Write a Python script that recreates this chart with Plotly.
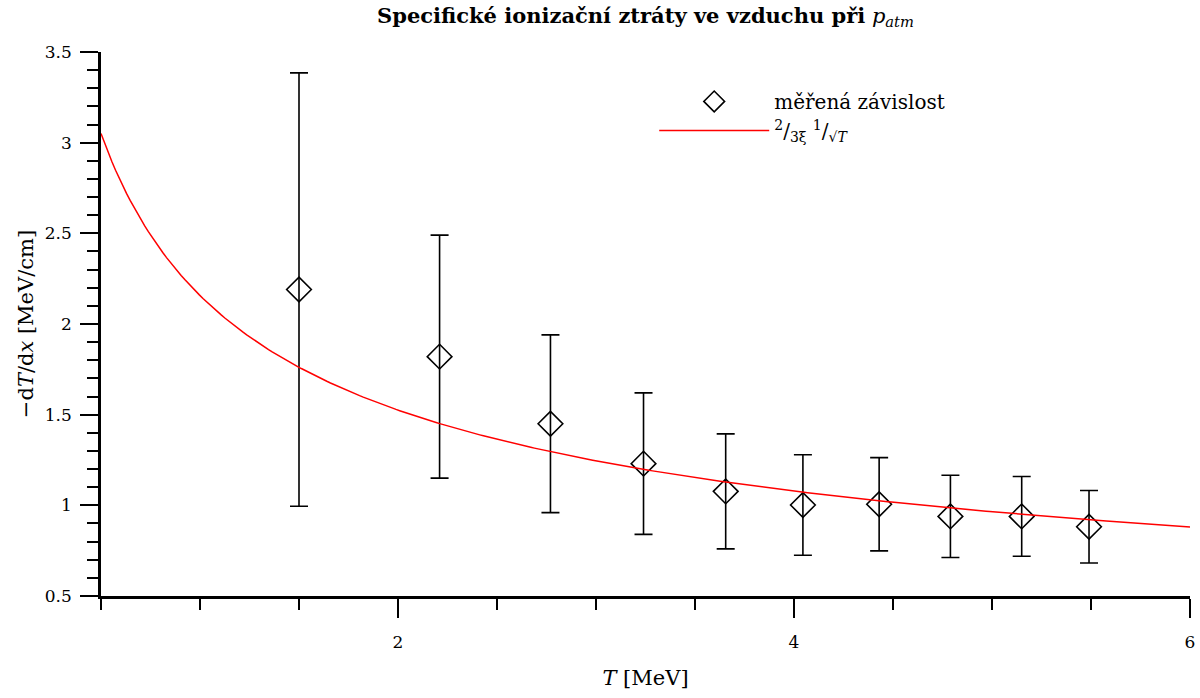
import numpy as np
import plotly.graph_objects as go

# measured data
T_meas = [1.50, 2.21, 2.77, 3.24, 3.655, 4.045, 4.43, 4.79, 5.15, 5.49]
dTdx_meas = [2.19, 1.82, 1.45, 1.23, 1.077, 1.002, 1.006, 0.939, 0.939, 0.882]
dTdx_err = [1.195, 0.67, 0.49, 0.39, 0.317, 0.277, 0.257, 0.227, 0.22, 0.2]

# model 2/(3 xi) * 1/sqrt(T)
coef = 2.157
T_model = np.linspace(0.5, 6.0, 300)
dTdx_model = coef / np.sqrt(T_model)

FONT = "DejaVu Serif"

fig = go.Figure()
fig.add_trace(go.Scatter(
    x=T_meas, y=dTdx_meas, mode="markers",
    name="měřená závislost",
    marker=dict(symbol="diamond-open", size=19, color="black", line=dict(width=1.6, color="black")),
    error_y=dict(type="data", array=dTdx_err, visible=True, color="black", thickness=1.6, width=9),
    legendrank=1,
))
fig.add_trace(go.Scatter(
    x=T_model, y=dTdx_model, mode="lines",
    name="<sup>2</sup>/<sub>3ξ</sub> <sup>1</sup>/<sub>√<i>T</i></sub>",
    line=dict(color="red", width=1.5),
    legendrank=2,
))

axis_common = dict(
    showgrid=False, zeroline=False, showline=True, linecolor="black", linewidth=2.5,
    ticks="outside", tickcolor="black", tickwidth=2, automargin=False,
    tickfont=dict(family=FONT, size=17, color="black"),
)

fig.update_layout(
    width=1200, height=698,
    margin=dict(l=101, r=10, t=52, b=102),
    paper_bgcolor="white", plot_bgcolor="white",
    font=dict(family=FONT, color="black"),
    title=dict(
        text="<b>Specifické ionizační ztráty ve vzduchu při</b> <i>p<sub>atm</sub></i>",
        x=0.5, xref="paper", xanchor="center", y=0.978, yanchor="middle",
        font=dict(family=FONT, size=21, color="black"),
    ),
    xaxis=dict(
        range=[0.5, 6.0], tickmode="array", tickvals=[2, 4, 6], ticklen=19,
        ticklabelstandoff=10,
        minor=dict(dtick=0.5, tick0=0, ticklen=11, tickwidth=2, tickcolor="black", ticks="outside"),
        title=dict(text="<i>T</i> [MeV]", font=dict(family=FONT, size=21), standoff=20),
        **axis_common,
    ),
    yaxis=dict(
        range=[0.5, 3.5], tick0=0.5, dtick=0.5, ticklen=18,
        ticklabelstandoff=5,
        minor=dict(dtick=0.1, tick0=0.5, ticklen=11, tickwidth=2, tickcolor="black", ticks="outside"),
        title=dict(text="−d<i>T</i>/d<i>x</i> [MeV/cm]", font=dict(family=FONT, size=21), standoff=6),
        **axis_common,
    ),
    legend=dict(
        x=0.508, y=0.945, xanchor="left", yanchor="top",
        bgcolor="rgba(0,0,0,0)", font=dict(family=FONT, size=20, color="black"),
        tracegroupgap=0, itemwidth=110,
    ),
)

fig.write_html("out.html")
